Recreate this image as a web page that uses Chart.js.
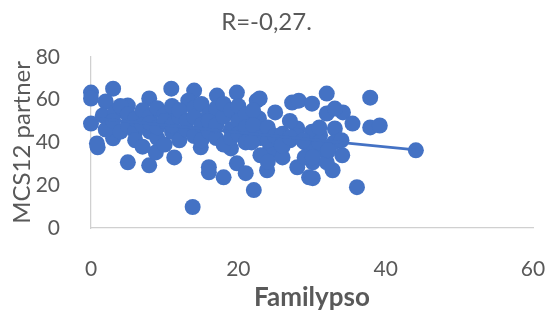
<!DOCTYPE html>
<html>
<head>
<meta charset="utf-8">
<script src="https://cdn.jsdelivr.net/npm/chart.js@4.4.1/dist/chart.umd.min.js"></script>
<style>
  body { margin: 0; background: #fff; }
  canvas { display: block; }
</style>
</head>
<body>
<canvas id="scatterChart" width="546" height="311"></canvas>
<script>
// values
const familypso = [
    0, 0, 0, 3, 2, 0.9, 0.8, 5, 3, 5, 1.6, 3.3, 10.9, 7.9, 7.9, 11.3, 8.8, 13.8, 14, 13.2,
    19.8, 17.1, 16, 18, 16, 19.8, 21, 14.9, 19, 22.1, 22.5, 22.9, 27.3, 25, 22.8, 28.2, 30, 28, 23.9, 28,
    29.6, 24.3, 25.6, 22.3, 32, 37.9, 32, 34.2, 33.1, 35.5, 37.9, 33.1, 31.1, 34.1, 32.8, 36.1, 30.1, 31.5, 30.1, 39.2,
    44.1,
    2, 3, 4, 4, 5, 5, 6, 6, 6, 7, 7, 7, 8, 8, 8, 9, 9, 9, 10, 10,
    10, 11, 11, 11, 12, 12, 12, 13, 13, 14, 14, 14, 15, 15, 15, 16, 16, 16, 17, 17,
    17, 18, 18, 18, 19, 19, 19, 20, 20, 20, 21, 21, 21, 22, 22, 23, 23, 24, 24, 25,
    26, 26, 27, 28, 29, 30, 30, 31, 32, 33, 34, 24, 26, 29, 31, 27, 21.8, 25.9, 27, 28.8,
    30.1, 32, 32.2
];
const mcs12Partner = [
    63.3, 60.5, 48.8, 65.1, 59.1, 37.7, 39.5, 30.7, 41.9, 57.2, 52.6, 54, 65.1, 60.5, 29.3, 33, 35.3, 9.8, 64.2, 59.5,
    63.3, 61.9, 28.4, 23.7, 26, 30.2, 25.6, 37.7, 37.2, 17.7, 59.5, 60.5, 58.6, 54, 51.2, 59.5, 58.1, 46.5, 27, 28.4,
    23.7, 37.2, 35.3, 44.2, 62.8, 60.9, 53.5, 54, 55.8, 48.8, 47, 46.5, 43.3, 34, 27, 19.1, 23.3, 37.2, 30.7, 47.9,
    36.3,
    46, 50, 45, 57, 48, 53, 45, 51, 41, 55, 48, 38, 52, 45, 49, 56, 42, 47, 53, 39,
    50, 45, 57, 48, 52, 41, 55, 46, 50, 43, 56, 52, 48, 58, 41, 53, 45, 50, 56, 42,
    48, 52, 39, 58, 46, 55, 42, 50, 57, 44, 53, 47, 40, 55, 48, 42, 34, 41, 47, 43,
    38, 44, 41, 43, 40, 36, 45, 40, 35, 40, 41, 31, 33, 33, 47, 50, 40, 38.6, 42.3, 40.9,
    33, 30.7, 36.3
];
// linear trendline ends as seen in the picture
const trendX = [0, 44.1];
const trendY = [51.5, 36.5];

const xTicks = [0, 20, 40, 60];
const yTicks = [0, 20, 40, 60, 80];

const blue = '#4472C4';
const textColor = '#595959';
const fontFamily = 'Lato, "Open Sans", sans-serif';

const points = familypso.map((x, i) => ({ x: x, y: mcs12Partner[i] }));
const trend = trendX.map((x, i) => ({ x: x, y: trendY[i] }));

const ctx = document.getElementById('scatterChart').getContext('2d');
new Chart(ctx, {
    type: 'scatter',
    data: {
        datasets: [
            {
                label: 'Trend',
                type: 'line',
                data: trend,
                borderColor: blue,
                borderWidth: 2.75,
                pointRadius: 0,
                fill: false,
                clip: false,
                order: 0
            },
            {
                label: 'MCS12 partner',
                data: points,
                backgroundColor: blue,
                borderColor: blue,
                borderWidth: 0,
                pointRadius: 8,
                pointHoverRadius: 8,
                clip: false,
                order: 1
            }
        ]
    },
    options: {
        responsive: false,
        animation: false,
        layout: { padding: { left: 0, right: 13, top: 0, bottom: 0 } },
        plugins: {
            legend: { display: false },
            tooltip: { enabled: false },
            title: {
                display: true,
                text: 'R=-0,27.',
                color: textColor,
                font: { family: fontFamily, size: 24, weight: 'normal' },
                padding: { top: 8, bottom: 20 }
            }
        },
        scales: {
            x: {
                type: 'linear',
                min: xTicks[0],
                max: xTicks[xTicks.length - 1],
                afterBuildTicks: scale => { scale.ticks = xTicks.map(v => ({ value: v })); },
                afterFit: scale => {
                    scale.height = 83;
                    scale.paddingLeft = 0;
                    scale.paddingRight = 0;
                },
                grid: { display: false },
                border: { display: true, color: '#d0d0d0', width: 1.25 },
                ticks: {
                    color: textColor,
                    font: { family: fontFamily, size: 21 },
                    padding: 21,
                    maxRotation: 0
                },
                title: {
                    display: true,
                    text: 'Familypso',
                    color: textColor,
                    font: { family: fontFamily, size: 26, weight: 'bold', lineHeight: 1 },
                    padding: { top: 0, bottom: 0 }
                }
            },
            y: {
                type: 'linear',
                min: yTicks[0],
                max: yTicks[yTicks.length - 1],
                afterBuildTicks: scale => { scale.ticks = yTicks.map(v => ({ value: v })); },
                afterFit: scale => {
                    scale.width = 91;
                    scale.paddingTop = 0;
                    scale.paddingBottom = 0;
                },
                grid: { display: false },
                border: { display: true, color: '#d0d0d0', width: 1.25 },
                ticks: {
                    color: textColor,
                    font: { family: fontFamily, size: 21 },
                    padding: 23
                },
                title: {
                    display: true,
                    text: 'MCS12 partner',
                    color: textColor,
                    font: { family: fontFamily, size: 24, weight: 'normal', lineHeight: 1 },
                    padding: { top: 10, bottom: 0 }
                }
            }
        }
    }
});
</script>
</body>
</html>
